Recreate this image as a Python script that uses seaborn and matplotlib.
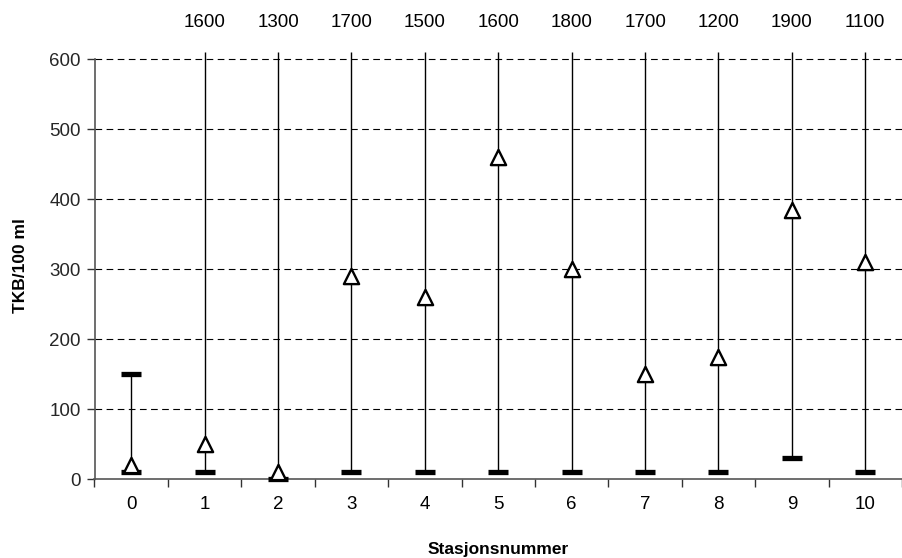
import matplotlib
matplotlib.use("Agg")
import matplotlib.pyplot as plt
import seaborn as sns
import pandas as pd
import numpy as np

stations = [0, 1, 2, 3, 4, 5, 6, 7, 8, 9, 10]
min_vals = [10, 10, 0, 10, 10, 10, 10, 10, 10, 30, 10]
max_vals = [150, 1600, 1300, 1700, 1500, 1600, 1800, 1700, 1200, 1900, 1100]
mid_vals = [20, 50, 10, 290, 260, 460, 300, 150, 175, 385, 310]
top_labels = ["", "1600", "1300", "1700", "1500", "1600", "1800", "1700", "1200", "1900", "1100"]

sns.set_theme(style="white")
plt.rcParams['font.family'] = ['Liberation Sans', 'DejaVu Sans']

df = pd.DataFrame({"st": stations, "lo": min_vals, "hi": max_vals, "mid": mid_vals})

fig = plt.figure(figsize=(9.02, 5.58), dpi=100)
ax = fig.add_axes([94.5/902, 79/558, 807.5/902, 427/558])

ymax_view = 610
ax.vlines(df["st"], df["lo"], np.minimum(df["hi"], ymax_view), color="black", lw=1.0, zorder=2)

sns.scatterplot(data=df, x="st", y="lo", marker="_", s=190, linewidth=3.8,
                color="black", ax=ax, zorder=4, clip_on=False, legend=False)
sns.scatterplot(data=df[df["hi"] <= 600], x="st", y="hi", marker="_", s=190, linewidth=3.8,
                color="black", ax=ax, zorder=4, clip_on=False, legend=False)
sns.scatterplot(data=df, x="st", y="mid", marker="^", s=120, linewidth=1.7,
                facecolor="white", edgecolor="black", ax=ax, zorder=5, clip_on=False, legend=False)

ax.set_xlim(-0.5, -0.5 + 807.5/75)
ax.set_ylim(0, ymax_view)
ax.set_yticks([0, 100, 200, 300, 400, 500, 600])
ax.set_xticks(stations)
ax.set_xticks(np.arange(-0.5, 10.6, 1.0), minor=True)
ax.tick_params(axis="x", which="major", length=0, labelsize=13.5, pad=12, colors="black")
ax.tick_params(axis="x", which="minor", length=6, width=1, direction="out", color="#333333")
ax.tick_params(axis="y", which="major", length=6, width=1, direction="out", labelsize=13.5, color="#333333", pad=4)
ax.xaxis.set_ticks_position("bottom")
ax.yaxis.set_ticks_position("left")

for y in [100, 200, 300, 400, 500, 600]:
    ax.axhline(y, color="black", lw=0.8, ls=(0, (6, 4)), zorder=1)

for s in ["top", "right"]:
    ax.spines[s].set_visible(False)
ax.spines["left"].set_bounds(0, 600)
ax.spines["left"].set_color("#555555")
ax.spines["bottom"].set_color("#555555")
ax.spines["left"].set_linewidth(1.2)
ax.spines["bottom"].set_linewidth(1.2)

for st, lab in zip(stations, top_labels):
    if lab:
        ax.annotate(lab, xy=(st, 1.0), xycoords=("data", "axes fraction"),
                    xytext=(0, 21), textcoords="offset points",
                    ha="center", va="center", fontsize=13.5, color="black", annotation_clip=False)

ax.set_xlabel("Stasjonsnummer", fontsize=12.5, fontweight="bold", labelpad=21, color="black")
ax.set_ylabel("TKB/100 ml", fontsize=12.5, fontweight="bold", labelpad=15, color="black")

fig.savefig("out.png", dpi=100)
